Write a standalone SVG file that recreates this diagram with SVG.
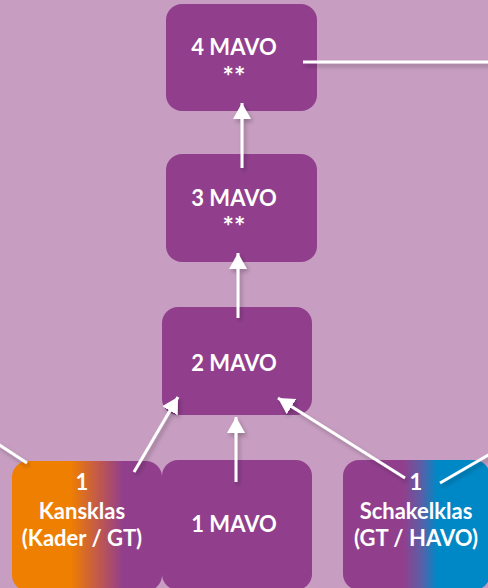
<svg xmlns="http://www.w3.org/2000/svg" width="488" height="588" viewBox="0 0 488 588">
<style>
.box{fill:#913F8D}
.t{font-family:Lato,"Open Sans",sans-serif;font-weight:bold;font-size:22px;fill:#FFFFFF;text-anchor:middle}
.a{font-size:27px}
.c{stroke:#FFFFFF;stroke-width:3;fill:none}
</style>
<defs>
<linearGradient id="gk" gradientUnits="userSpaceOnUse" x1="12" y1="0" x2="162" y2="0">
<stop offset="0.39" stop-color="#EF7F00"/>
<stop offset="0.58" stop-color="#C0584E"/>
<stop offset="0.74" stop-color="#913F8D"/>
</linearGradient>
<linearGradient id="gs" gradientUnits="userSpaceOnUse" x1="343" y1="0" x2="490" y2="0">
<stop offset="0.41" stop-color="#913F8D"/>
<stop offset="0.53" stop-color="#5C5EA6"/>
<stop offset="0.64" stop-color="#0088C6"/>
</linearGradient>
<marker id="ah" markerUnits="userSpaceOnUse" markerWidth="16" markerHeight="18" refX="16" refY="9" orient="auto">
<path d="M0,0 L16,9 L0,18 Z" fill="#FFFFFF"/>
</marker>
<filter id="sh" x="-20%" y="-20%" width="140%" height="140%">
<feDropShadow dx="2" dy="3" stdDeviation="2" flood-color="#000" flood-opacity="0.25"/>
</filter>
</defs>
<rect width="488" height="588" fill="#C79EC1"/>
<g id="n4">
<rect class="box" x="166" y="4" width="151" height="107" rx="16"/>
<text class="t" x="234" y="55">4 MAVO</text>
<text class="t a" x="234" y="86">**</text>
</g>
<g id="n3">
<rect class="box" x="166" y="154" width="151" height="108" rx="16"/>
<text class="t" x="234" y="206">3 MAVO</text>
<text class="t a" x="234" y="236">**</text>
</g>
<g id="n2">
<rect class="box" x="162" y="307" width="150" height="108" rx="16"/>
<text class="t" x="234" y="371">2 MAVO</text>
</g>
<g id="kansklas">
<rect x="12" y="461" width="150" height="130" rx="16" fill="url(#gk)"/>
<text class="t" x="82" y="490">1</text>
<text class="t" x="82" y="519">Kansklas</text>
<text class="t" x="82" y="546">(Kader / GT)</text>
</g>
<g id="n1">
<rect class="box" x="162" y="460" width="150" height="130" rx="16"/>
<text class="t" x="234" y="532">1 MAVO</text>
</g>
<g id="schakelklas">
<rect x="343" y="460" width="147" height="130" rx="16" fill="url(#gs)"/>
<text class="t" x="416" y="490">1</text>
<text class="t" x="416" y="519">Schakelklas</text>
<text class="t" x="416" y="546">(GT / HAVO)</text>
</g>
<g id="connectors" filter="url(#sh)">
<line class="c" x1="303" y1="62" x2="490" y2="62"/>
<line class="c" x1="242" y1="168" x2="242" y2="103" marker-end="url(#ah)"/>
<line class="c" x1="238" y1="318" x2="238" y2="253" marker-end="url(#ah)"/>
<line class="c" x1="236" y1="482" x2="236" y2="417" marker-end="url(#ah)"/>
<line class="c" x1="134" y1="472" x2="178" y2="397" marker-end="url(#ah)"/>
<line class="c" x1="405" y1="478" x2="278" y2="398" marker-end="url(#ah)"/>
<line class="c" x1="-2" y1="444" x2="27" y2="463"/>
<line class="c" x1="440" y1="483" x2="490" y2="454"/>
</g>
</svg>
